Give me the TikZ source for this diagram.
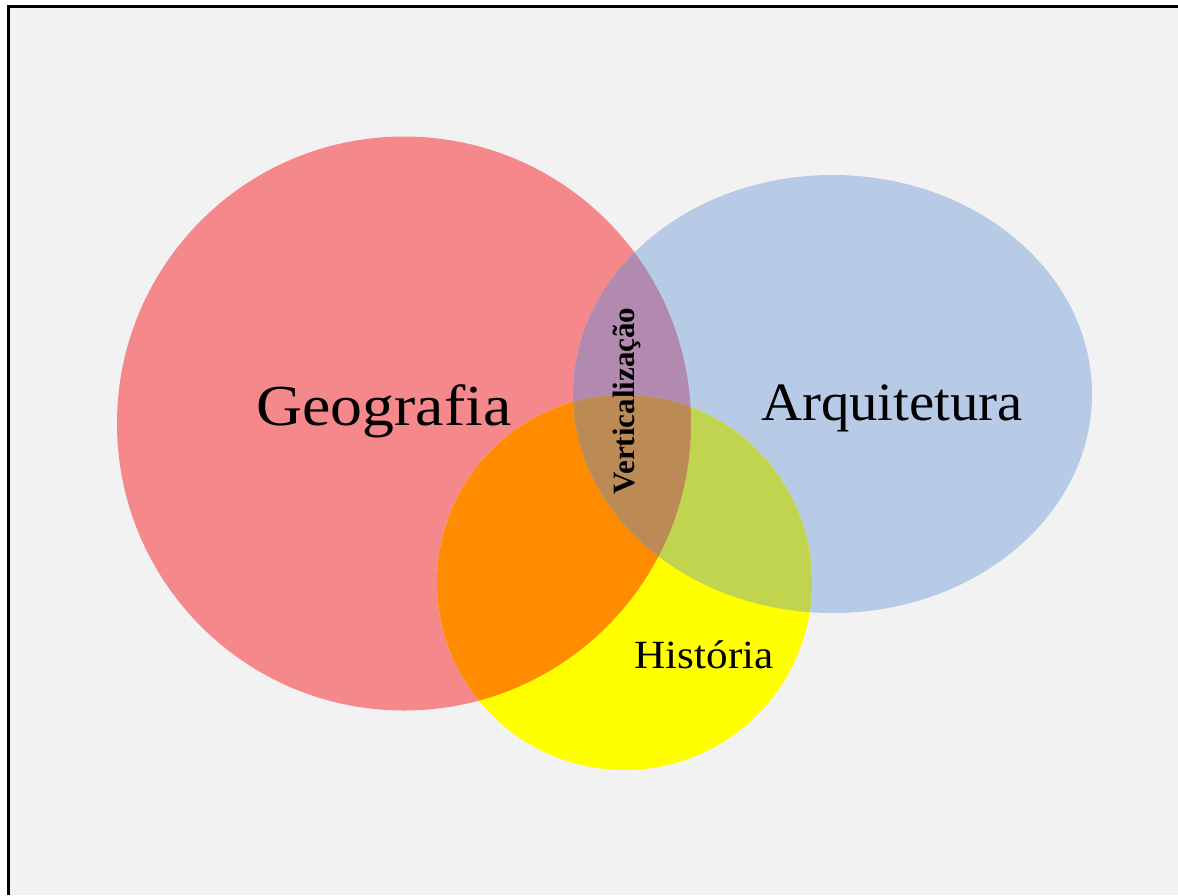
\documentclass[tikz,border=0pt]{standalone}
\usepackage{fontspec}
\setmainfont{Liberation Serif}
\definecolor{bggray}{HTML}{F2F2F2}
\definecolor{geo}{HTML}{F4888A}
\definecolor{arq}{HTML}{B7CAE6}
\definecolor{his}{HTML}{FFFF00}
\definecolor{geohis}{HTML}{FF8C00}
\definecolor{geoarq}{HTML}{B28AB0}
\definecolor{arqhis}{HTML}{C0D450}
\definecolor{allthree}{HTML}{BC8A55}
\tikzset{
  lbl/.style={inner sep=0pt, anchor=base, text=black},
}
\def\geopath{(404,423.5) circle[radius=287]}
\def\arqpath{(832.5,394) ellipse[x radius=259.5, y radius=219]}
\def\hispath{(624.5,582.5) circle[radius=187.5]}
\begin{document}
\begin{tikzpicture}[x=1pt,y=-1pt]
\useasboundingbox (0,0) rectangle (1178,895);
\fill[white] (0,0) rectangle (1178,895);
\fill[bggray] (8,6) rectangle (1178,895);
\draw[line width=3pt] (8,895) -- (8,6) -- (1178,6);
% single sets
\fill[geo] \geopath;
\fill[arq] \arqpath;
\fill[his] \hispath;
% pairwise
\begin{scope}
  \clip \geopath;
  \fill[geohis] \hispath;
  \fill[geoarq] \arqpath;
\end{scope}
\begin{scope}
  \clip \arqpath;
  \fill[arqhis] \hispath;
\end{scope}
\begin{scope}
  \clip \geopath;
  \clip \arqpath;
  \fill[allthree] \hispath;
\end{scope}
% labels
\node[lbl, font=\fontsize{58}{60}\selectfont] (geografia) at (384,425) {\scalebox{1.1}[1]{Geografia}};
\node[lbl, font=\fontsize{54}{56}\selectfont] (arquitetura) at (892,420) {\scalebox{1.05}[1]{Arquitetura}};
\node[lbl, font=\fontsize{40}{42}\selectfont] (historia) at (704,668) {\scalebox{1.08}[1]{História}};
\node[inner sep=0pt, rotate=90, font=\bfseries\fontsize{31}{33}\selectfont] (vert) at (626.5,401) {Verticalização};
\end{tikzpicture}
\end{document}
